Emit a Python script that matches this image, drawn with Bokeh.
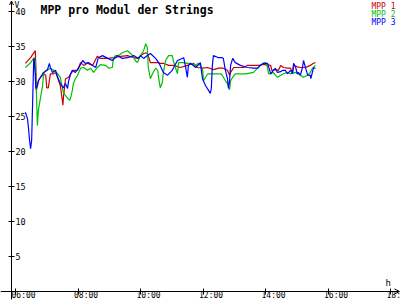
from bokeh.plotting import figure
from bokeh.models import (Range1d, LinearAxis, FixedTicker, Arrow, OpenHead,
                          ColumnDataSource, Label)
from bokeh.core.properties import value
from bokeh.embed import file_html
from bokeh.resources import INLINE

# ---------------- data ----------------
title_text = "MPP pro Modul der Strings"
series_names = ["MPP 1", "MPP 2", "MPP 3"]
series_colors = ["#c80000", "#00c000", "#0000ff"]
y_unit = "V"
x_unit = "h"

mpp1_time = ["06:19", "06:29", "06:38", "06:39", "06:40", "06:44", "06:48", "06:54", "06:58", "07:00",
             "07:03", "07:07", "07:13", "07:17", "07:23", "07:26", "07:30", "07:31", "07:32", "07:36",
             "07:42", "07:46", "07:51", "07:59", "08:05", "08:11", "08:18", "08:28", "08:37", "08:43",
             "08:57", "09:08", "09:22", "09:35", "09:47", "09:54", "10:06", "10:13", "10:19", "10:33",
             "10:38", "10:44", "10:54", "11:03", "11:17", "11:30", "11:42", "11:49", "11:59", "12:09",
             "12:20", "12:30", "12:39", "12:47", "12:51", "12:53", "12:59", "13:08", "13:18", "13:25",
             "13:37", "13:47", "13:54", "14:00", "14:10", "14:12", "14:19", "14:25", "14:29", "14:35",
             "14:42", "14:48", "14:52", "14:54", "15:01", "15:07", "15:17", "15:26", "15:32", "15:36"]
mpp1_volt = [32.6, 33.4, 34.4, 32.3, 28.7, 30.1, 30.6, 31.1, 30.9, 29.1,
             29.1, 31.1, 31.1, 31.3, 30.1, 29.4, 27.3, 26.6, 27.7, 30.4,
             30.6, 31.1, 31.6, 31.6, 32.7, 32.3, 32.6, 32.3, 33.6, 33.3,
             33.3, 33.4, 33.6, 33.7, 33.4, 33.3, 34.0, 34.1, 32.7, 32.7,
             32.6, 32.6, 32.3, 32.3, 32.0, 32.3, 32.6, 32.0, 31.9, 32.0,
             31.7, 31.9, 31.9, 31.6, 30.9, 31.3, 32.0, 32.0, 32.0, 32.3,
             32.3, 32.3, 32.4, 32.4, 32.3, 31.6, 31.7, 31.6, 32.3, 32.0,
             31.9, 31.9, 31.3, 32.3, 32.1, 32.0, 32.0, 32.3, 32.6, 32.7]

mpp2_time = ["06:19", "06:29", "06:36", "06:38", "06:40", "06:42", "06:44", "06:48", "06:52", "06:54",
             "06:58", "07:03", "07:07", "07:13", "07:21", "07:26", "07:30", "07:32", "07:36", "07:40",
             "07:44", "07:46", "07:49", "07:51", "07:55", "07:59", "08:05", "08:11", "08:18", "08:24",
             "08:30", "08:37", "08:43", "08:53", "08:59", "09:06", "09:08", "09:12", "09:18", "09:25",
             "09:35", "09:41", "09:45", "09:50", "09:54", "10:00", "10:06", "10:10", "10:13", "10:15",
             "10:19", "10:23", "10:29", "10:33", "10:35", "10:38", "10:42", "10:44", "10:48", "10:54",
             "11:01", "11:03", "11:07", "11:11", "11:13", "11:21", "11:30", "11:36", "11:46", "11:51",
             "11:59", "12:01", "12:05", "12:09", "12:24", "12:34", "12:37", "12:43", "12:47", "12:51",
             "12:53", "12:57", "13:02", "13:12", "13:22", "13:37", "13:45", "13:50", "13:56", "14:00",
             "14:04", "14:06", "14:10", "14:15", "14:19", "14:23", "14:29", "14:35", "14:42", "14:48",
             "14:58", "15:07", "15:13", "15:21", "15:26", "15:30", "15:36"]
mpp2_volt = [32.0, 32.7, 33.4, 32.7, 28.7, 23.7, 25.9, 27.7, 29.4, 31.1,
             31.6, 31.7, 31.9, 31.6, 31.1, 30.6, 29.1, 28.4, 28.0, 27.6,
             27.3, 27.7, 28.7, 29.7, 30.4, 30.9, 31.9, 32.0, 31.6, 31.9,
             31.3, 32.0, 32.4, 32.3, 31.9, 32.0, 33.4, 33.7, 33.7, 34.1,
             34.4, 34.0, 33.7, 33.0, 32.7, 33.7, 34.4, 35.4, 34.9, 32.0,
             30.4, 31.1, 31.9, 31.6, 30.4, 29.1, 29.9, 31.3, 33.0, 33.7,
             33.7, 33.0, 32.0, 31.1, 32.7, 32.7, 32.6, 32.6, 32.3, 32.6,
             31.9, 30.1, 30.6, 31.1, 31.1, 31.1, 30.9, 30.1, 29.7, 28.8,
             30.1, 30.6, 31.1, 31.1, 31.1, 31.3, 31.9, 32.3, 32.6, 32.7,
             32.0, 31.1, 31.1, 31.3, 30.9, 30.6, 30.9, 31.1, 31.3, 31.1,
             31.3, 30.9, 30.6, 30.9, 31.3, 31.9, 32.3]

mpp3_time = ["06:19", "06:23", "06:25", "06:27", "06:29", "06:31", "06:33", "06:35", "06:36", "06:38",
             "06:39", "06:42", "06:44", "06:48", "06:52", "06:54", "07:01", "07:05", "07:07", "07:11",
             "07:17", "07:21", "07:26", "07:32", "07:36", "07:40", "07:42", "07:46", "07:49", "07:55",
             "08:01", "08:09", "08:14", "08:20", "08:28", "08:34", "08:39", "08:47", "08:57", "09:06",
             "09:16", "09:25", "09:35", "09:47", "09:56", "10:00", "10:06", "10:13", "10:19", "10:29",
             "10:35", "10:44", "10:52", "11:01", "11:11", "11:23", "11:26", "11:30", "11:32", "11:36",
             "11:46", "11:55", "11:59", "12:05", "12:11", "12:14", "12:16", "12:18", "12:20", "12:30",
             "12:37", "12:39", "12:43", "12:47", "12:49", "12:51", "12:53", "12:57", "13:02", "13:12",
             "13:25", "13:37", "13:45", "13:50", "13:56", "14:04", "14:06", "14:10", "14:15", "14:19",
             "14:23", "14:29", "14:33", "14:38", "14:42", "14:48", "14:52", "14:54", "14:58", "15:01",
             "15:03", "15:07", "15:11", "15:13", "15:17", "15:21", "15:26", "15:27", "15:30", "15:32",
             "15:36"]
mpp3_volt = [25.6, 24.7, 23.3, 21.6, 20.4, 21.6, 27.3, 33.3, 33.0, 30.9,
             29.0, 29.4, 30.1, 30.6, 31.1, 31.3, 31.6, 32.6, 32.0, 31.3,
             31.6, 30.6, 29.7, 29.1, 29.7, 29.0, 30.1, 31.1, 31.6, 31.3,
             31.9, 33.0, 32.6, 32.7, 32.3, 32.0, 33.4, 33.7, 33.3, 33.0,
             33.7, 33.3, 33.4, 33.7, 33.3, 33.7, 33.3, 33.7, 34.0, 33.3,
             32.7, 31.3, 30.9, 31.6, 33.0, 33.4, 32.3, 30.6, 32.3, 32.6,
             32.0, 32.7, 30.4, 29.4, 28.7, 28.3, 29.0, 32.3, 33.7, 33.4,
             33.4, 33.3, 31.6, 30.4, 29.0, 30.1, 32.3, 33.3, 32.7, 32.3,
             32.0, 31.9, 31.9, 32.3, 32.6, 32.6, 32.1, 31.1, 31.6, 31.9,
             31.3, 31.4, 31.6, 31.6, 31.1, 31.6, 31.1, 32.6, 32.0, 31.1,
             31.3, 30.9, 32.0, 33.0, 31.9, 30.9, 30.9, 30.4, 31.3, 31.9,
             31.9]

x_ticks = [6, 8, 10, 12, 14, 16, 18]
x_tick_labels = ["06:00", "08:00", "10:00", "12:00", "14:00", "16:00", "18:00"]
y_ticks = [5, 10, 15, 20, 25, 30, 35, 40]
y_tick_labels = ["5", "10", "15", "20", "25", "30", "35", "40"]


def to_hours(s):
    h, m = s.split(":")
    return int(h) + int(m) / 60.0


# ---------------- layout (pixels) ----------------
W, H = 400, 300
PX_PER_HOUR = 31.25
PX_PER_VOLT = 7.0
X_START = 6 - 15 / PX_PER_HOUR          # left edge of canvas
Y_START = -9 / PX_PER_VOLT              # bottom edge of canvas
X_END = X_START + W / PX_PER_HOUR
Y_END = Y_START + H / PX_PER_VOLT
X_AXIS_AT = X_START + 11 / PX_PER_HOUR  # where the y axis stands
MONO = "DejaVu Sans Mono"

p = figure(width=W, height=H, min_border=0, output_backend="svg",
           toolbar_location=None, x_axis_type=None, y_axis_type=None,
           x_range=Range1d(X_START, X_END), y_range=Range1d(Y_START, Y_END),
           outline_line_color=None, background_fill_color="white",
           border_fill_color="white")

# axes
yaxis = LinearAxis(fixed_location=X_AXIS_AT, ticker=FixedTicker(ticks=y_ticks),
                   bounds=(Y_START + 1 / PX_PER_VOLT, Y_END - 1 / PX_PER_VOLT),
                   major_tick_in=3, major_tick_out=3, minor_tick_in=0, minor_tick_out=0,
                   major_label_overrides={t: l for t, l in zip(y_ticks, y_tick_labels)},
                   major_label_standoff=1, major_label_text_font=MONO,
                   major_label_text_font_size="8.5px", major_label_text_color="black",
                   axis_line_color="black", major_tick_line_color="black")
p.add_layout(yaxis, "right")

xaxis = LinearAxis(fixed_location=0, ticker=FixedTicker(ticks=x_ticks),
                   bounds=(X_START, X_END - 2 / PX_PER_HOUR),
                   major_tick_in=3, major_tick_out=3, minor_tick_in=0, minor_tick_out=0,
                   major_label_overrides={t: "" for t in x_ticks},
                   axis_line_color="black", major_tick_line_color="black")
p.add_layout(xaxis, "below")

# x tick labels (left-aligned next to the tick, as in the original)
p.text(x=x_ticks, y=[0] * len(x_ticks), text=x_tick_labels,
       x_offset=-4, y_offset=8.5, text_align="left", text_baseline="bottom",
       text_font=value(MONO), text_font_size="8px", text_color="black")

# arrow heads
p.add_layout(Arrow(end=OpenHead(size=5, line_width=1, line_color="black"),
                   x_start=X_END - 10 / PX_PER_HOUR, y_start=0,
                   x_end=X_END - 1 / PX_PER_HOUR, y_end=0, line_color="black", line_width=1))
p.add_layout(Arrow(end=OpenHead(size=4, line_width=1, line_color="black"),
                   x_start=X_AXIS_AT, y_start=Y_END - 10 / PX_PER_VOLT,
                   x_end=X_AXIS_AT, y_end=Y_END - 0.5 / PX_PER_VOLT,
                   line_color="black", line_width=1))

# data lines
all_series = [(mpp1_time, mpp1_volt), (mpp2_time, mpp2_volt), (mpp3_time, mpp3_volt)]
for (times, volts), color in zip(all_series, series_colors):
    src = ColumnDataSource(dict(t=[to_hours(s) for s in times], v=volts))
    p.line("t", "v", source=src, line_color=color, line_width=1.2)

# texts
p.add_layout(Label(x=40, y=H - 2, x_units="screen", y_units="screen", text=title_text,
                   text_baseline="top", text_font=MONO, text_font_style="bold",
                   text_font_size="11.5px", text_color="black"))
p.add_layout(Label(x=14, y=H, x_units="screen", y_units="screen", text=y_unit,
                   text_baseline="top", text_font=MONO, text_font_size="8px",
                   text_color="black"))
p.add_layout(Label(x=385, y=H - 277, x_units="screen", y_units="screen", text=x_unit,
                   text_baseline="top", text_font=MONO, text_font_size="9px",
                   text_color="black"))
for i, (name, color) in enumerate(zip(series_names, series_colors)):
    p.add_layout(Label(x=395, y=H - 1 - 8 * i, x_units="screen", y_units="screen",
                       text=name, text_align="right", text_baseline="top",
                       text_font=MONO, text_font_size="8px", text_color=color))

open("out.html", "w").write(file_html(p, INLINE))
